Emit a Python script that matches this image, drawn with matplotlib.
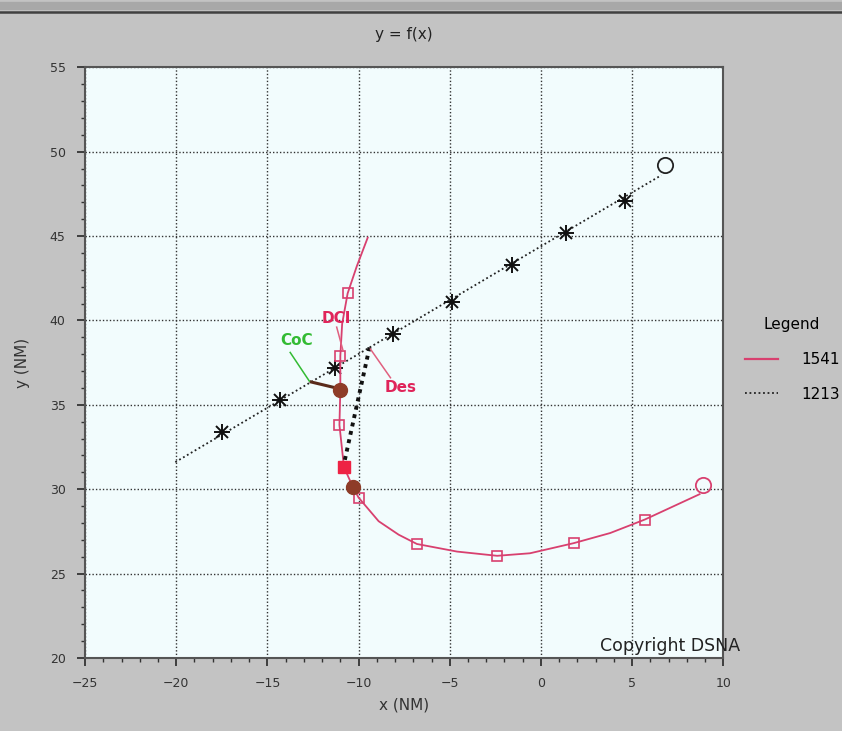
import numpy as np
import matplotlib.pyplot as plt
from matplotlib.lines import Line2D

# ── Données ────────────────────────────────────────────────────────────────────
# vol 1213 (pointillés noirs, astérisques)
x_1213_line = [-20.05, 6.6]
y_1213_line = [31.6, 48.6]
x_1213_mk = [-17.5, -14.3, -11.3, -8.1, -4.9, -1.6, 1.4, 4.6]
y_1213_mk = [33.4, 35.3, 37.2, 39.2, 41.1, 43.3, 45.2, 47.1]
x_1213_end, y_1213_end = 6.8, 49.2

# vol 1541 (trait rose, carrés)
x_1541_line = [-9.5, -10.1, -10.6, -10.9, -11.0, -11.0, -11.05, -10.8, -10.3, -10.0,
               -8.9, -7.8, -6.8, -4.6, -2.4, -0.6, 1.8, 3.8, 5.7, 8.7]
y_1541_line = [44.9, 43.2, 41.6, 39.8, 37.9, 35.9, 33.8, 31.3, 30.1, 29.5,
               28.1, 27.3, 26.75, 26.3, 26.05, 26.2, 26.8, 27.4, 28.2, 29.7]
x_1541_mk = [-10.6, -11.0, -11.05, -10.0, -6.8, -2.4, 1.8, 5.7]
y_1541_mk = [41.6, 37.9, 33.8, 29.5, 26.75, 26.05, 26.8, 28.2]
x_1541_end, y_1541_end = 8.9, 30.25

# points particuliers
x_filled_sq, y_filled_sq = -10.8, 31.3
x_brown = [-11.0, -10.3]
y_brown = [35.9, 30.1]

# descente (pointillés épais)
x_des = [-9.4, -10.8]
y_des = [38.4, 31.5]

# libellés
labels = ['DCI', 'CoC', 'Des']
label_xy = [(-11.2, 40.1), (-13.4, 38.8), (-7.7, 36.0)]
label_col = ['#e0245a', '#33bb33', '#e0245a']
leader_from = [(-11.2, 39.6), (-13.75, 38.1), (-9.35, 38.3)]
leader_to = [(-10.85, 38.2), (-12.7, 36.4), (-8.25, 36.6)]
leader_col = ['#e0607f', '#33bb33', '#e0607f']
x_coc_seg = [-12.6, -11.05]
y_coc_seg = [36.35, 35.95]

series_names = ['1541', '1213']

pink = '#d8406f'

fig = plt.figure(figsize=(8.42, 7.31), dpi=100, facecolor='#c3c3c3')
ax = fig.add_axes([0.101, 0.1, 0.758, 0.808])
ax.set_facecolor('#f2fcfd')

# bandeau du haut
fig.add_artist(Line2D([0, 1], [0.992, 0.992], color='#a8a8a8', lw=6, transform=fig.transFigure))
fig.add_artist(Line2D([0, 1], [0.983, 0.983], color='#404040', lw=1.8, transform=fig.transFigure))

# 1213
ax.plot(x_1213_line, y_1213_line, ls=(0, (1, 1.5)), color='#222222', lw=1.3)
ax.plot(x_1213_mk, y_1213_mk, ls='none', marker='+', ms=11, mew=1.4, color='#111111')
ax.plot(x_1213_mk, y_1213_mk, ls='none', marker='x', ms=8, mew=1.4, color='#111111')
ax.plot(x_1213_end, y_1213_end, ls='none', marker='o', ms=11, mfc='none', mec='#222222', mew=1.3)

# 1541
ax.plot(x_1541_line, y_1541_line, color=pink, lw=1.3)
ax.plot(x_1541_mk, y_1541_mk, ls='none', marker='s', ms=7, mfc='none', mec=pink, mew=1.2)
ax.plot(x_1541_end, y_1541_end, ls='none', marker='o', ms=11, mfc='none', mec=pink, mew=1.3)

# descente
ax.plot(x_des, y_des, ls=(0, (1, 1.2)), color='#111111', lw=2.8)
ax.plot(x_filled_sq, y_filled_sq, ls='none', marker='s', ms=9, color='#ee2244')
ax.plot(x_coc_seg, y_coc_seg, color='#5a2a1a', lw=2.2)
ax.plot(x_brown, y_brown, ls='none', marker='o', ms=10, color='#8e3c28')

for txt, (tx, ty), c, p0, p1, lc in zip(labels, label_xy, label_col, leader_from, leader_to, leader_col):
    ax.plot([p0[0], p1[0]], [p0[1], p1[1]], color=lc, lw=1.1)
    ax.text(tx, ty, txt, color=c, fontsize=11, fontweight='bold', ha='center', va='center')

ax.text(10.95, 20.2, 'Copyright DSNA', fontsize=12.5, color='#222222', ha='right', va='bottom',
        clip_on=False)

ax.set_xlim(-25, 10)
ax.set_ylim(20, 55)
ax.set_xticks(np.arange(-25, 11, 5))
ax.set_yticks(np.arange(20, 56, 5))
ax.set_xticks(np.arange(-25, 11, 1), minor=True)
ax.set_yticks(np.arange(20, 56, 1), minor=True)
ax.tick_params(which='major', length=6, width=1.3, color='#333333', labelsize=9,
               labelcolor='#333333', pad=8)
ax.tick_params(which='minor', length=3, width=1.0, color='#333333')
ax.grid(True, which='major', ls=(0, (1, 1.5)), color='#333333', lw=1.0)
for s in ax.spines.values():
    s.set_color('#555555')
    s.set_linewidth(1.5)

ax.set_title('y = f(x)', fontsize=11, color='#222222', pad=20)
ax.set_xlabel('x (NM)', fontsize=11, color='#333333', labelpad=5)
ax.set_ylabel('y (NM)', fontsize=11, color='#333333', labelpad=14)

handles = [Line2D([], [], color=pink, lw=1.6),
           Line2D([], [], color='#222222', lw=1.3, ls=(0, (1, 1.5)))]
leg = fig.legend(handles, series_names, title='Legend', loc='upper left',
                 bbox_to_anchor=(0.868, 0.585), frameon=False, fontsize=11,
                 title_fontsize=11, handlelength=2.2, handletextpad=1.5, labelspacing=1.3)

fig.savefig('out.png', dpi=100, facecolor=fig.get_facecolor())
